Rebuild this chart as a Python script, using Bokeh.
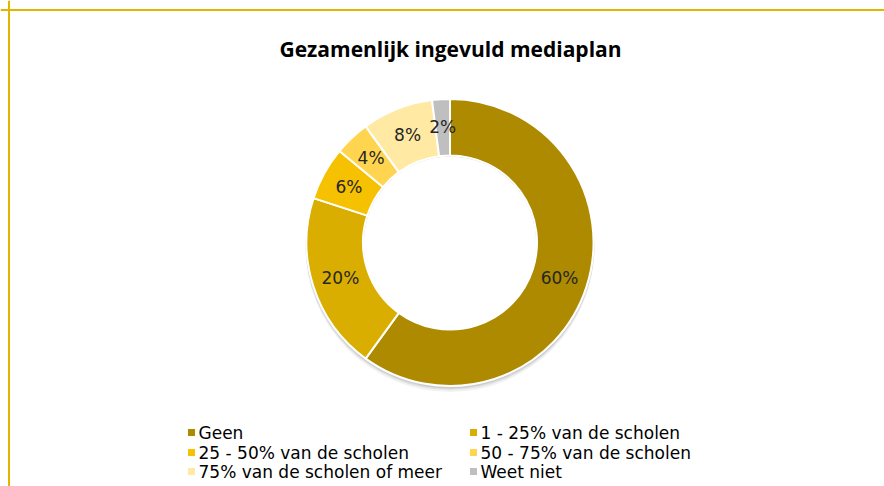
import math
from bokeh.plotting import figure
from bokeh.models import Range1d, Span, ColumnDataSource
from bokeh.core.properties import value
from bokeh.embed import file_html
from bokeh.resources import INLINE

title_text = "Gezamenlijk ingevuld mediaplan"
categories = ["Geen", "1 - 25% van de scholen", "25 - 50% van de scholen",
              "50 - 75% van de scholen", "75% van de scholen of meer", "Weet niet"]
values = [60, 20, 6, 4, 8, 2]
labels = ["60%", "20%", "6%", "4%", "8%", "2%"]
colors = ["#AD8A00", "#DAAE00", "#F5C100", "#FFD54F", "#FFE9A3", "#BFBFBF"]

W, H = 884, 486
OX, OY = 0, 0  # page offset of figure


def Y(py):
    return H - (py - OY)


def X(px):
    return px - OX


p = figure(width=W, height=H, output_backend="svg", toolbar_location=None,
           x_range=Range1d(0, W), y_range=Range1d(0, H), min_border=0)
p.axis.visible = False
p.grid.visible = False
p.outline_line_color = None
p.background_fill_color = "white"
p.border_fill_color = "white"

# chart border (top and left visible)
p.add_layout(Span(location=X(8.5), dimension="height", line_color="#E2B500", line_width=2))
p.add_layout(Span(location=Y(9.5), dimension="width", line_color="#E2B500", line_width=2))

cx, cy = X(449.5), Y(242)
r_out, r_in = 143.5, 87

total = sum(values)
starts, ends, lx, ly = [], [], [], []
cum = 0
for v in values:
    a0 = math.pi / 2 - 2 * math.pi * cum / total
    cum += v
    a1 = math.pi / 2 - 2 * math.pi * cum / total
    starts.append(a0)
    ends.append(a1)
    mid = (a0 + a1) / 2
    rm = (r_in + r_out) / 2
    lx.append(cx + rm * math.cos(mid))
    ly.append(cy + rm * math.sin(mid))

src = ColumnDataSource(dict(start=starts, end=ends, color=colors, lx=lx, ly=ly,
                            label=labels))

# soft shadow
for off, a in [(5, 0.05), (3, 0.07), (1.5, 0.09)]:
    p.annular_wedge(x=cx, y=cy - off, inner_radius=r_in - 1, outer_radius=r_out + 1,
                    start_angle=0, end_angle=2 * math.pi, color="#000000",
                    fill_alpha=a, line_alpha=0)

p.annular_wedge(x=cx, y=cy, inner_radius=r_in, outer_radius=r_out,
                start_angle="start", end_angle="end", direction="clock",
                fill_color="color", line_color="white", line_width=2, source=src)
# hole cover for shadow
p.circle(x=cx, y=cy, radius=r_in - 1, fill_color="white", line_color=None)

p.text(x="lx", y="ly", text="label", source=src, text_align="center",
       text_baseline="middle", text_font=value("DejaVu Sans"),
       text_font_size="17px", text_color="#262626")

p.text(x=[X(450)], y=[Y(48)], text=[title_text], text_align="center",
       text_baseline="middle", text_font=value("Open Sans"), text_font_style="bold",
       text_font_size="21px", text_color="#000000")

# legend
col_x = [X(191), X(473)]
row_y = [Y(432), Y(452), Y(471)]
sq_x, sq_y, tx, ty = [], [], [], []
for i in range(len(categories)):
    c, r = i % 2, i // 2
    sq_x.append(col_x[c])
    sq_y.append(row_y[r])
    tx.append(col_x[c] + 7)
    ty.append(row_y[r])
lsrc = ColumnDataSource(dict(x=sq_x, y=sq_y, tx=tx, ty=ty, color=colors, name=categories))
p.scatter(x="x", y="y", marker="square", size=7, fill_color="color", line_color=None,
          source=lsrc)
p.text(x="tx", y="ty", text="name", source=lsrc, text_align="left",
       text_baseline="middle", text_font=value("DejaVu Sans"), text_font_size="17px",
       text_color="#000000")

open("out.html", "w").write(file_html(p, INLINE))
